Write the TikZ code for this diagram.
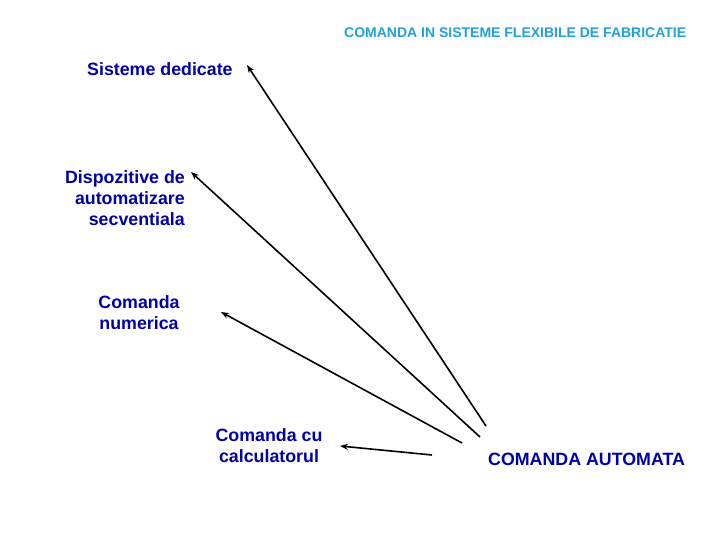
\documentclass[tikz,border=0pt]{standalone}
\usepackage{fontspec}
\setmainfont{Liberation Sans}
\usetikzlibrary{arrows.meta}
\definecolor{txtblue}{HTML}{0000A8}
\definecolor{titleblue}{HTML}{22A0DC}
\tikzset{
  lbl/.style={text=txtblue, font=\bfseries\fontsize{17.8}{21}\selectfont, inner sep=0pt},
  ttl/.style={text=titleblue, font=\bfseries\fontsize{14}{16}\selectfont, inner sep=0pt},
  arr/.style={draw=black, line width=1.6pt, -{Stealth[length=8pt,width=6pt]}}
}
\begin{document}
\begin{tikzpicture}[x=1pt,y=-1pt]
\useasboundingbox (0,0) rectangle (720,540);
\node[ttl, anchor=west] (title) at (344,33) {COMANDA IN SISTEME FLEXIBILE DE FABRICATIE};
\node[lbl, anchor=west] (sd) at (87,69) {Sisteme dedicate};
\node[lbl, anchor=east, align=right] (das) at (185,198) {Dispozitive de\\automatizare\\secventiala};
\node[lbl, align=center] (cn) at (139,313) {Comanda\\numerica};
\node[lbl, align=center] (cc) at (269,446) {Comanda cu\\calculatorul};
\node[lbl, anchor=west] (ca) at (488,459) {COMANDA AUTOMATA};
\coordinate (s1) at (486,426);
\coordinate (s2) at (480,437);
\coordinate (s3) at (462,443);
\coordinate (s4) at (432,455);
\coordinate (t1) at (247,65);
\coordinate (t2) at (191,172);
\coordinate (t3) at (221,312);
\coordinate (t4) at (340,446);
\draw[arr] (s1) -- (t1);
\draw[arr] (s2) -- (t2);
\draw[arr] (s3) -- (t3);
\draw[arr] (s4) -- (t4);
\end{tikzpicture}
\end{document}
